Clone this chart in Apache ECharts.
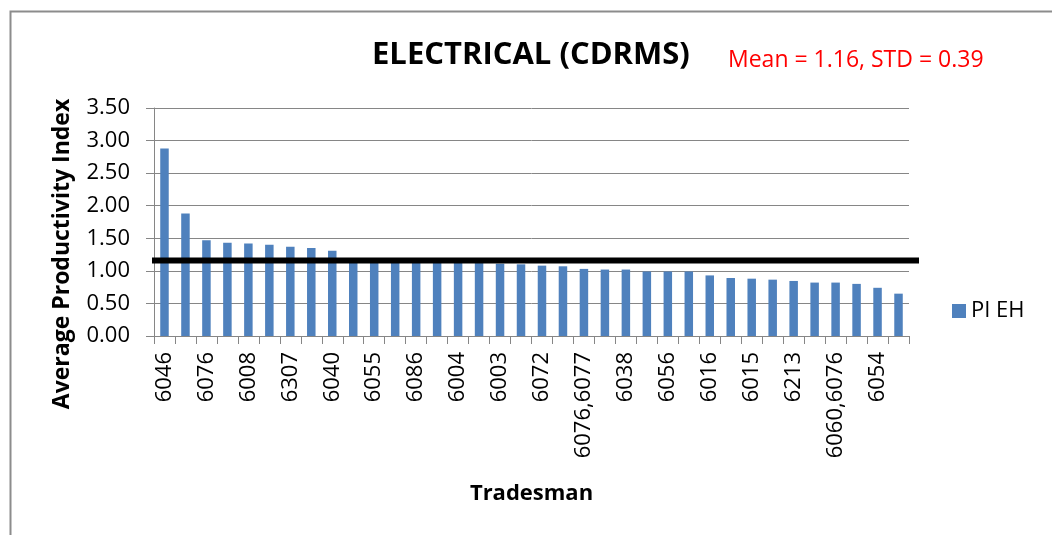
<!DOCTYPE html>
<html>
<head>
<meta charset="utf-8">
<script src="https://cdn.jsdelivr.net/npm/echarts@6/dist/echarts.min.js"></script>
<style>
html,body{margin:0;padding:0;background:#fff;}
#chart{width:1052px;height:535px;}
</style>
</head>
<body>
<div id="chart"></div>
<script>
// Tradesman categories (only every other label is legible in the source chart)
var categories = ['6046','','6076','','6008','','6307','','6040','',
  '6055','','6086','','6004','','6003','','6072','',
  '6076,6077','','6038','','6056','','6016','','6015','',
  '6213','','6060,6076','','6054',''];
// PI EH values (average productivity index)
var piEH = [2.88,1.88,1.47,1.43,1.42,1.40,1.37,1.35,1.31,1.17,
  1.16,1.15,1.14,1.13,1.13,1.12,1.11,1.10,1.08,1.07,
  1.03,1.02,1.02,0.99,0.99,0.99,0.93,0.89,0.88,0.865,
  0.845,0.82,0.82,0.80,0.74,0.65];
var meanValue = 1.16;
var stdValue = 0.39;
var yTicks = [0,0.5,1,1.5,2,2.5,3,3.5];

var FONT = 'Open Sans';
var chart = echarts.init(document.getElementById('chart'), null, {renderer:'canvas'});
var gridColor = '#868686';
var option = {
  backgroundColor: '#fff',
  animation: false,
  textStyle: {fontFamily: FONT, color: '#000'},
  graphic: [{
    type: 'rect', left: 8, top: 9, z: -10,
    shape: {width: 1200, height: 700},
    style: {fill: 'none', stroke: '#8c8c8c', lineWidth: 2}
  }],
  title: [{
    text: 'ELECTRICAL (CDRMS)', left: 372, top: 40, padding: 0,
    textStyle: {fontFamily: FONT, fontSize: 31, fontWeight: 'bold', color: '#000'}
  }, {
    text: 'Mean = ' + meanValue.toFixed(2) + ', STD = ' + stdValue.toFixed(2), left: 728, top: 49, padding: 0,
    textStyle: {fontFamily: FONT, fontSize: 23, fontWeight: 'normal', color: '#ff0000'}
  }],
  legend: {
    data: ['PI EH'], left: 952, top: 300, orient: 'vertical', padding: 0,
    icon: 'rect', itemWidth: 14, itemHeight: 14, itemGap: 6,
    textStyle: {fontFamily: FONT, fontSize: 22, color: '#000'}
  },
  grid: [
    {left: 154, right: 143, top: 108, bottom: 199, containLabel: false},
    {left: 152, right: 133, top: 108, bottom: 199, containLabel: false}
  ],
  xAxis: [{
    type: 'category', data: categories, gridIndex: 0, boundaryGap: true,
    name: 'Tradesman', nameLocation: 'middle', nameGap: 147,
    nameTextStyle: {fontFamily: FONT, fontSize: 22, fontWeight: 'bold', color: '#000'},
    axisLine: {show: true, lineStyle: {color: gridColor, width: 1}},
    axisTick: {show: true, interval: 0, length: 8, lineStyle: {color: gridColor}},
    axisLabel: {interval: 1, rotate: 90, fontSize: 22, margin: 16, color: '#000', fontFamily: FONT},
    splitLine: {show: false}
  }, {
    type: 'value', gridIndex: 1, min: 0, max: 1, show: false
  }],
  yAxis: [{
    type: 'value', gridIndex: 0, min: yTicks[0], max: yTicks[yTicks.length-1], interval: 0.5,
    name: 'Average Productivity Index', nameLocation: 'middle', nameGap: 80,
    nameTextStyle: {fontFamily: FONT, fontSize: 23, fontWeight: 'bold', color: '#000', padding: [0, 64, 0, 0]},
    axisLine: {show: true, lineStyle: {color: gridColor, width: 1}},
    axisTick: {show: true, length: 8, lineStyle: {color: gridColor}},
    axisLabel: {fontSize: 22, margin: 24, color: '#000', fontFamily: FONT,
      formatter: function(v){ return v.toFixed(2); }},
    splitLine: {show: true, lineStyle: {color: gridColor, width: 1}}
  }, {
    type: 'value', gridIndex: 1, min: yTicks[0], max: yTicks[yTicks.length-1], show: false
  }],
  series: [{
    name: 'PI EH', type: 'bar', xAxisIndex: 0, yAxisIndex: 0,
    data: piEH, barWidth: 8.5,
    itemStyle: {color: '#4f81bd'}
  }, {
    name: 'Mean', type: 'line', xAxisIndex: 1, yAxisIndex: 1, z: 5,
    data: [[0, meanValue], [1, meanValue]],
    symbol: 'none', lineStyle: {color: '#000', width: 6}
  }]
};
chart.setOption(option);
</script>
</body>
</html>
